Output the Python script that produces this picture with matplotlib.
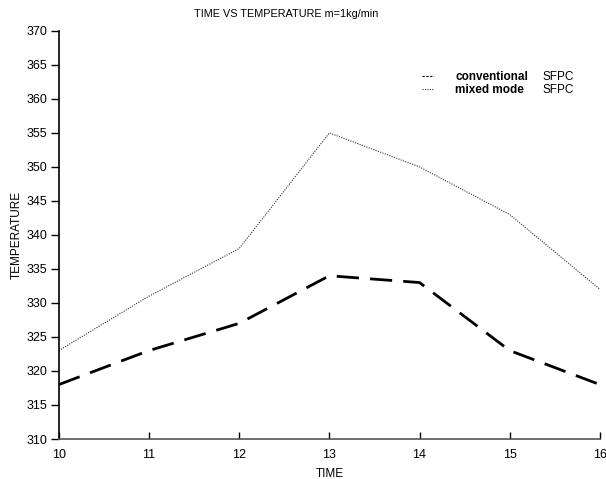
import matplotlib
matplotlib.use("Agg")
import matplotlib.pyplot as plt
from matplotlib.lines import Line2D

# data
time = [10, 11, 12, 13, 14, 15, 16]
conventional = [318, 323, 327, 334, 333, 323, 318]
mixed_mode = [323, 331, 338, 355, 350, 343, 332]

plt.rcParams["font.family"] = ["Liberation Sans", "DejaVu Sans"]
plt.rcParams["font.size"] = 9

fig = plt.figure(figsize=(6.06, 4.79), dpi=100)
ax = fig.add_axes([0.097, 0.0835, 0.893, 0.852])

ax.plot(time, conventional, color="black", lw=2.0, dashes=(8, 4))
ax.plot(time, mixed_mode, color="#333333", lw=0.8, linestyle=(0, (1, 1.2)))

ax.set_xlim(10, 16)
ax.set_ylim(310, 370)
ax.set_xticks(range(10, 17))
ax.set_yticks(range(310, 371, 5))

ax.spines["top"].set_visible(False)
ax.spines["right"].set_visible(False)
ax.spines["left"].set_linewidth(1.2)
ax.spines["bottom"].set_color("#555555")
ax.spines["bottom"].set_linewidth(1.2)
ax.tick_params(axis="y", direction="out", length=6, width=1, pad=2, labelsize=9)
ax.tick_params(axis="x", direction="in", length=5, width=1, pad=7.5, labelsize=9)

ax.set_title("TIME VS TEMPERATURE m=1kg/min", fontsize=7.8, pad=10, x=0.42)
ax.set_xlabel("TIME", fontsize=8.5, labelpad=4.5)
ax.set_ylabel("TEMPERATURE", fontsize=8.5, labelpad=3)

# small legend like the original
handles = [Line2D([], [], color="black", lw=0.8, dashes=(2, 1.5)),
           Line2D([], [], color="#333333", lw=0.8, linestyle=(0, (1, 1.2)))]
ax.legend(handles, ["conventional", "mixed mode"], loc="upper left",
          bbox_to_anchor=(0.652, 0.928), frameon=False,
          handlelength=1.0, handletextpad=1.8, labelspacing=0.1,
          prop={"weight": "bold", "size": 8.5})
ax.text(0.893, 0.887, "SFPC", transform=ax.transAxes, fontsize=8.5, va="center")
ax.text(0.893, 0.855, "SFPC", transform=ax.transAxes, fontsize=8.5, va="center")

fig.savefig("out.png", dpi=100)
